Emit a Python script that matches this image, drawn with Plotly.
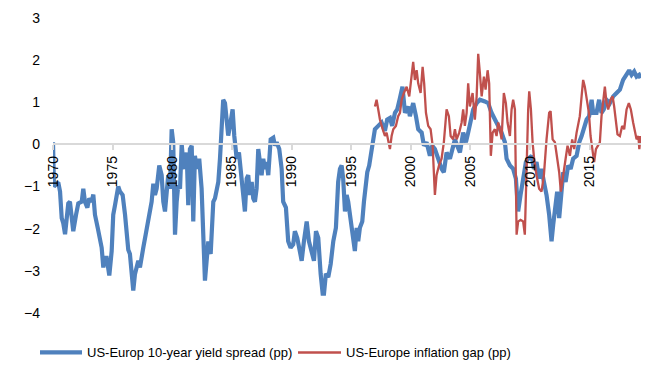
import plotly.graph_objects as go

# US-Europe 10-year government bond yield spread, percentage points (decimal years)
spread_year = [
    1970.00, 1970.08, 1970.44, 1970.59, 1970.73, 1970.86, 1971.01, 1971.15, 1971.28, 1971.42,
    1971.57, 1971.70, 1971.93, 1972.12, 1972.41, 1972.54, 1972.68, 1972.88, 1973.04, 1973.24,
    1973.38, 1973.52, 1973.75, 1973.94, 1974.08, 1974.22, 1974.36, 1974.50, 1974.72, 1974.92,
    1975.05, 1975.20, 1975.34, 1975.47, 1975.62, 1975.84, 1976.04, 1976.18, 1976.31, 1976.45,
    1976.60, 1976.73, 1976.87, 1977.02, 1977.15, 1977.29, 1977.44, 1977.57, 1977.77, 1977.99,
    1978.27, 1978.41, 1978.55, 1978.69, 1978.91, 1979.11, 1979.25, 1979.39, 1979.53, 1979.66,
    1979.81, 1979.95, 1980.08, 1980.23, 1980.37, 1980.50, 1980.65, 1980.79, 1980.92, 1981.06,
    1981.21, 1981.34, 1981.48, 1981.63, 1981.76, 1981.90, 1982.05, 1982.26, 1982.46, 1982.60,
    1982.74, 1982.88, 1983.02, 1983.22, 1983.44, 1983.58, 1983.72, 1983.86, 1984.00, 1984.14,
    1984.27, 1984.42, 1984.56, 1984.69, 1984.84, 1985.06, 1985.20, 1985.40, 1985.59, 1985.73,
    1985.90, 1986.09, 1986.24, 1986.37, 1986.51, 1986.66, 1986.79, 1986.93, 1987.07, 1987.21,
    1987.35, 1987.49, 1987.63, 1987.77, 1987.91, 1988.05, 1988.25, 1988.47, 1988.61, 1988.75,
    1988.97, 1989.17, 1989.30, 1989.53, 1989.72, 1989.92, 1990.14, 1990.28, 1990.48, 1990.70,
    1990.85, 1991.04, 1991.27, 1991.46, 1991.68, 1991.88, 1992.05, 1992.24, 1992.44, 1992.61,
    1992.72, 1992.88, 1993.08, 1993.28, 1993.50, 1993.72, 1993.91, 1994.06, 1994.20, 1994.33,
    1994.48, 1994.62, 1994.75, 1994.95, 1995.12, 1995.31, 1995.46, 1995.59, 1995.73, 1995.93,
    1996.07, 1996.21, 1996.35, 1996.51, 1996.71, 1996.85, 1996.99, 1997.27, 1997.55, 1997.83,
    1998.02, 1998.25, 1998.44, 1998.67, 1998.86, 1999.09, 1999.30, 1999.51, 1999.78, 1999.92,
    2000.20, 2000.43, 2000.62, 2000.91, 2001.10, 2001.32, 2001.60, 2001.79, 2002.02, 2002.30,
    2002.58, 2002.77, 2003.00, 2003.28, 2003.50, 2003.70, 2003.89, 2004.12, 2004.39, 2004.62,
    2004.81, 2005.01, 2005.23, 2005.52, 2005.79, 2006.21, 2006.49, 2006.77, 2007.05, 2007.33,
    2007.61, 2007.89, 2008.03, 2008.31, 2008.58, 2008.81, 2009.00, 2009.20, 2009.42, 2009.65,
    2009.84, 2010.13, 2010.32, 2010.54, 2010.76, 2010.96, 2011.16, 2011.38, 2011.60, 2011.80,
    2011.94, 2012.14, 2012.27, 2012.44, 2012.64, 2012.78, 2012.98, 2013.19, 2013.40, 2013.61,
    2013.90, 2014.12, 2014.32, 2014.54, 2014.74, 2014.95, 2015.16, 2015.29, 2015.57, 2015.79,
    2015.99, 2016.18, 2016.41, 2016.69, 2016.97, 2017.25, 2017.53, 2017.80, 2018.09, 2018.31,
    2018.51, 2018.73, 2018.93, 2019.14, 2019.26,
]
spread_pp = [
    0.05, -1.00, -0.90, -1.12, -1.75, -1.87, -2.13, -1.67, -1.40, -1.36,
    -1.75, -2.06, -1.67, -1.40, -1.36, -1.05, -1.36, -1.50, -1.28, -1.36,
    -1.19, -1.67, -1.98, -2.30, -2.45, -2.92, -2.69, -2.69, -3.11, -2.53,
    -1.67, -1.44, -1.20, -1.00, -1.12, -1.20, -1.67, -2.22, -2.50, -2.60,
    -3.00, -3.47, -3.08, -2.84, -2.76, -2.92, -2.72, -2.45, -2.14, -1.75,
    -1.36, -0.93, -1.20, -1.05, -0.50, -0.73, -1.36, -1.59, -1.05, -0.73,
    -1.05, 0.36, 0.05, -2.14, -1.36, -0.97, -1.05, 0.00, -0.42, -0.58,
    -0.19, -1.44, -0.11, -0.03, -1.83, -0.27, -0.58, -0.34, -1.05, -2.14,
    -3.23, -2.76, -2.30, -2.60, -1.36, -1.28, -1.05, -0.89, -0.34, 0.44,
    1.06, 0.98, 0.52, 0.21, 0.44, 0.83, 0.20, -0.34, -0.19, -0.66,
    -1.05, -1.59, -0.81, -0.73, -1.20, -0.89, -1.28, -1.36, -1.05, -0.11,
    -0.42, -0.73, -0.34, -0.58, -0.42, -0.73, 0.12, 0.16, -0.03, 0.05,
    -0.11, -0.58, -1.36, -1.50, -2.30, -2.45, -2.37, -2.06, -2.22, -2.60,
    -2.76, -2.30, -1.83, -2.30, -2.60, -2.76, -2.06, -2.22, -3.07, -3.54,
    -3.54, -3.07, -3.15, -2.84, -2.30, -1.98, -0.89, -0.58, -0.50, -0.81,
    -1.59, -1.20, -1.36, -1.75, -2.22, -2.53, -1.98, -2.30, -1.98, -1.83,
    -1.36, -0.89, -0.66, -0.50, -0.19, 0.05, 0.36, 0.44, 0.52, 0.32,
    0.59, 0.63, 0.44, 0.75, 0.83, 1.10, 1.37, 0.75, 0.90, 0.67,
    0.98, 0.67, 0.36, 0.28, -0.03, 0.05, -0.27, -0.03, -0.11, -0.34,
    -0.58, -0.66, -0.19, -0.34, -0.11, 0.12, -0.03, -0.19, 0.28, 0.05,
    0.28, 0.59, 0.83, 0.98, 1.06, 1.02, 0.98, 0.75, 0.59, 0.44,
    0.28, 0.05, -0.34, -0.50, -0.58, -0.81, -1.59, -1.20, -0.73, -0.42,
    -0.34, -0.27, -0.58, -0.42, -0.81, -0.58, -0.89, -1.20, -1.67, -2.30,
    -1.90, -1.51, -1.12, -1.75, -1.05, -0.66, -0.89, -0.50, -0.58, -0.34,
    -0.27, 0.05, 0.20, 0.44, 0.59, 0.67, 1.06, 0.75, 0.75, 1.06,
    0.75, 0.83, 1.06, 0.98, 1.14, 1.22, 1.30, 1.53, 1.69, 1.76,
    1.65, 1.73, 1.61, 1.65, 1.57,
]

# US-Europe inflation gap, percentage points (decimal years)
gap_year = [
    1996.99, 1997.13, 1997.27, 1997.41, 1997.64, 1997.83, 1997.97, 1998.11, 1998.25, 1998.39,
    1998.53, 1998.75, 1998.94, 1999.09, 1999.23, 1999.42, 1999.65, 1999.87, 2000.06, 2000.20,
    2000.34, 2000.49, 2000.62, 2000.82, 2000.99, 2001.12, 2001.27, 2001.46, 2001.66, 2001.83,
    2002.02, 2002.16, 2002.36, 2002.58, 2002.77, 2003.00, 2003.19, 2003.34, 2003.55, 2003.70,
    2003.84, 2004.06, 2004.26, 2004.39, 2004.53, 2004.68, 2004.81, 2004.95, 2005.18, 2005.37,
    2005.52, 2005.65, 2005.79, 2005.94, 2006.13, 2006.27, 2006.44, 2006.57, 2006.71, 2006.86,
    2007.05, 2007.19, 2007.33, 2007.47, 2007.61, 2007.80, 2007.97, 2008.11, 2008.31, 2008.45,
    2008.58, 2008.73, 2008.87, 2009.00, 2009.20, 2009.42, 2009.56, 2009.71, 2009.84, 2009.93,
    2010.07, 2010.21, 2010.34, 2010.54, 2010.76, 2010.96, 2011.16, 2011.38, 2011.60, 2011.72,
    2011.89, 2012.08, 2012.22, 2012.44, 2012.58, 2012.78, 2012.98, 2013.14, 2013.34, 2013.53,
    2013.70, 2013.90, 2014.03, 2014.17, 2014.32, 2014.45, 2014.59, 2014.74, 2014.93, 2015.07,
    2015.24, 2015.37, 2015.52, 2015.71, 2015.85, 2015.99, 2016.13, 2016.27, 2016.41, 2016.55,
    2016.75, 2016.92, 2017.05, 2017.19, 2017.33, 2017.53, 2017.72, 2017.89, 2018.09, 2018.28,
    2018.45, 2018.64, 2018.78, 2018.93, 2019.08, 2019.16, 2019.26,
]
gap_pp = [
    0.90, 1.06, 0.83, 0.59, 0.36, 0.20, 0.28, 0.05, -0.11, 0.20,
    0.36, 0.44, 0.67, 0.75, 1.06, 1.22, 1.37, 1.14, 1.61, 1.96,
    1.53, 1.76, 1.45, 1.22, 1.84, 1.45, 0.75, 0.44, 0.36, -0.03,
    -1.20, -0.73, -0.50, -0.34, 0.05, 0.83, 0.67, 0.20, 0.12, 0.36,
    0.12, 0.28, 0.52, 0.83, 0.44, 0.75, 1.45, 0.90, 1.22, 0.59,
    1.14, 2.15, 1.69, 1.14, 1.61, 1.30, 1.76, 1.45, -0.27, 0.28,
    0.36, 0.20, 0.52, 0.36, 0.12, 1.22, 0.98, 0.52, 0.20, 0.83,
    1.06, 0.83, -2.14, -1.83, -1.79, -1.83, -2.14, -0.42, 0.83, 1.26,
    0.83, 0.05, -0.34, -0.73, -1.05, -1.12, -0.73, 0.12, 0.75, 0.79,
    0.12, 0.05, -0.19, -0.66, -1.12, -0.66, -0.34, -0.03, -0.27, 0.12,
    -0.11, 0.28, 0.52, 0.67, 1.14, 1.53, 1.37, 1.14, 0.75, 0.20,
    -0.11, -0.42, -0.11, -0.03, 0.05, 0.67, 1.06, 1.37, 0.98, 0.83,
    1.06, 1.14, 0.90, 0.52, 0.24, 0.20, 0.44, 0.36, 0.83, 0.98,
    0.83, 0.52, 0.28, 0.12, 0.20, -0.11, 0.20,
]

year_ticks = [1970, 1975, 1980, 1985, 1990, 1995, 2000, 2005, 2010, 2015]
value_ticks = [-4, -3, -2, -1, 0, 1, 2, 3]
series_names = ["US-Europ 10-year yield spread (pp)", "US-Europe inflation gap (pp)"]

BLUE = "#4F81BD"
RED = "#C0504D"
FONT = "Liberation Sans, Arial, sans-serif"

W, H = 651, 370
M_L, M_R, M_T, M_B = 53, 10, 14, 57
PLOT_W = W - M_L - M_R
PLOT_H = H - M_T - M_B


def px_to_paper_x(px):
    return (px - M_L) / PLOT_W


def px_to_paper_y(py):
    return (H - M_B - py) / PLOT_H


fig = go.Figure()
fig.add_trace(go.Scatter(
    x=spread_year, y=spread_pp, mode="lines", name=series_names[0],
    line=dict(color=BLUE, width=4.2), showlegend=False,
))
fig.add_trace(go.Scatter(
    x=gap_year, y=gap_pp, mode="lines", name=series_names[1],
    line=dict(color=RED, width=2.3), showlegend=False,
))

# Legend row below the plot: coloured key line followed by its label
legend_y = px_to_paper_y(353)
legend_items = [(series_names[0], BLUE, 4.2, 40, 82), (series_names[1], RED, 2.6, 298, 341)]
for label, color, lw, x0, x1 in legend_items:
    fig.add_shape(
        type="line", xref="paper", yref="paper",
        x0=px_to_paper_x(x0), x1=px_to_paper_x(x1), y0=legend_y, y1=legend_y,
        line=dict(color=color, width=lw),
    )
    fig.add_annotation(
        xref="paper", yref="paper", x=px_to_paper_x(x1 + 3), y=legend_y,
        xanchor="left", yanchor="middle", showarrow=False, text=label,
        font=dict(family=FONT, size=13, color="#000000"),
    )

y_min, y_max = -4, 3
fig.update_layout(
    width=W, height=H,
    margin=dict(l=M_L, r=M_R, t=M_T, b=M_B),
    paper_bgcolor="white", plot_bgcolor="white",
    font=dict(family=FONT, size=13, color="#000000"),
    showlegend=False,
    xaxis=dict(
        range=[1970, 2019.3],
        tickmode="array", tickvals=year_ticks, ticktext=[str(t) for t in year_ticks],
        tickangle=-90, tickfont=dict(size=14, color="#000000"),
        ticks="outside", ticklen=5, tickcolor="#D9D9D9", tickwidth=1.5,
        showline=True, linecolor="#D9D9D9", linewidth=2,
        showgrid=False, zeroline=False,
        anchor="free", position=(0 - y_min) / (y_max - y_min),
    ),
    yaxis=dict(
        range=[y_min, y_max],
        tickmode="array", tickvals=value_ticks,
        tickfont=dict(size=14, color="#000000"),
        showline=False, showgrid=False, zeroline=False,
        ticks="", ticklabelstandoff=12,
    ),
)

fig.write_html("out.html")
